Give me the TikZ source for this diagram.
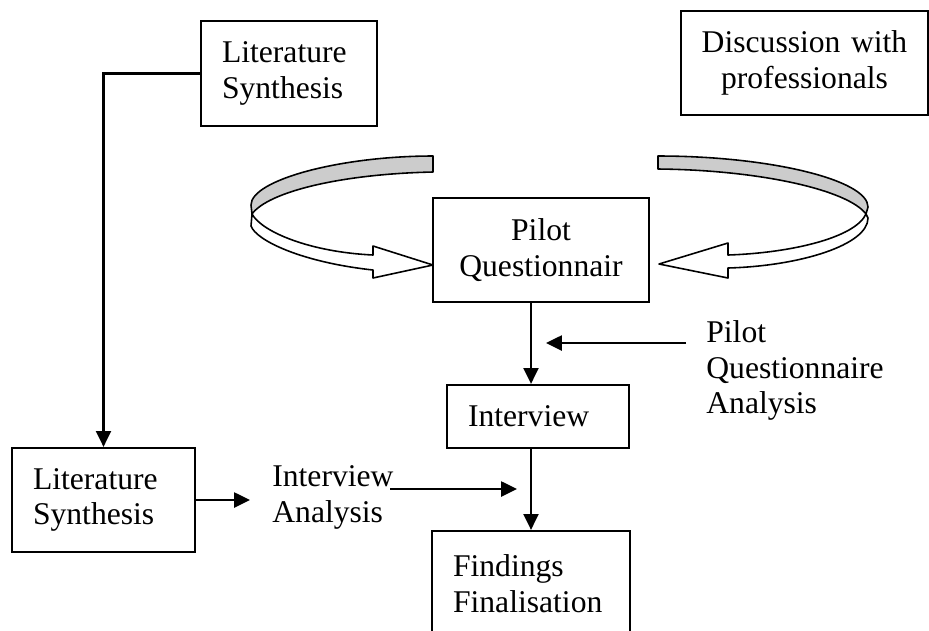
\documentclass[tikz,border=0pt]{standalone}
\usepackage{fontspec}
\setmainfont{Liberation Serif}
\usetikzlibrary{arrows.meta}

\begin{document}
\begin{tikzpicture}[
    x=0.02cm, y=-0.02cm,
    box/.style={rectangle, draw, line width=1.3pt, inner ysep=0pt,
                inner xsep=0.42cm, font=\fontsize{18}{20.2}\selectfont, align=left},
    txt/.style={inner sep=0pt, font=\fontsize{18}{20.2}\selectfont, align=left},
    arrow/.style={-{Triangle[length=9pt,width=8.5pt]}, line width=1.3pt},
    ribbon/.style={draw, line width=0.9pt, line join=round}
]
\useasboundingbox (0,0) rectangle (929,630);
\clip (0,0) rectangle (929,630);

% curved arrows round the pilot
\draw[ribbon, fill=black!20] (433,156) .. controls (340,156) and (251,180) .. (251,205)
    -- (252,214) .. controls (268,192) and (340,174) .. (433,172) -- cycle;
\draw[ribbon, fill=white] (252,214) .. controls (262,232) and (310,252) .. (373,255)
    -- (373,246) -- (433,265) -- (373,278) -- (373,270)
    .. controls (300,262) and (256,240) .. (251,226) -- cycle;
\draw[ribbon, fill=black!20] (658,156) .. controls (770,156) and (868,180) .. (868,207)
    -- (866,214) .. controls (848,190) and (760,170) .. (658,169) -- cycle;
\draw[ribbon, fill=white] (866,214) .. controls (855,238) and (790,253) .. (728,255)
    -- (728,243) -- (659,264) -- (728,278) -- (728,268)
    .. controls (800,266) and (868,245) .. (868,218) -- cycle;

\node[box, text width=2.68cm, minimum height=2.1cm] (litA) at (289,73.5) {Literature\\Synthesis};
\node[box, align=center, inner xsep=0.3cm, text width=4.34cm, minimum height=2.08cm] (disc) at (804.5,63) {Discussion with\\professionals};
\node[box, align=center, text width=3.48cm, minimum height=2.08cm] (pilot) at (541,250) {Pilot\\Questionnair};
\node[box, text width=2.8cm, minimum height=1.26cm] (intv) at (538,416.5) {Interview};
\node[box, text width=2.82cm, minimum height=2.08cm] (litB) at (103.5,500) {Literature\\Synthesis};
\node[box, text width=3.12cm, minimum height=2.1cm] (find) at (531,583.5) {Findings\\Finalisation};
\node[txt, anchor=west] (pqa) at (706,370.5) {Pilot\\Questionnaire\\Analysis};
\node[txt, anchor=west] (ianal) at (272,497.5) {Interview\\Analysis};

\coordinate (iaIn) at (250,500);
\coordinate (iaOut) at (390,489);
\coordinate (iaEnd) at (517,489);
\coordinate (pqaOut) at (686,343);
\coordinate (pqaEnd) at (546,343);

\draw[arrow] (litA.west) -| (litB.north);
\draw[arrow] (litB.east) -- (iaIn);
\draw[arrow] (iaOut) -- (iaEnd);
\draw[arrow] (pqaOut) -- (pqaEnd);
\draw[arrow] (find.north |- pilot.south) -- (find.north |- intv.north);
\draw[arrow] (find.north |- intv.south) -- (find.north);
\end{tikzpicture}
\end{document}
